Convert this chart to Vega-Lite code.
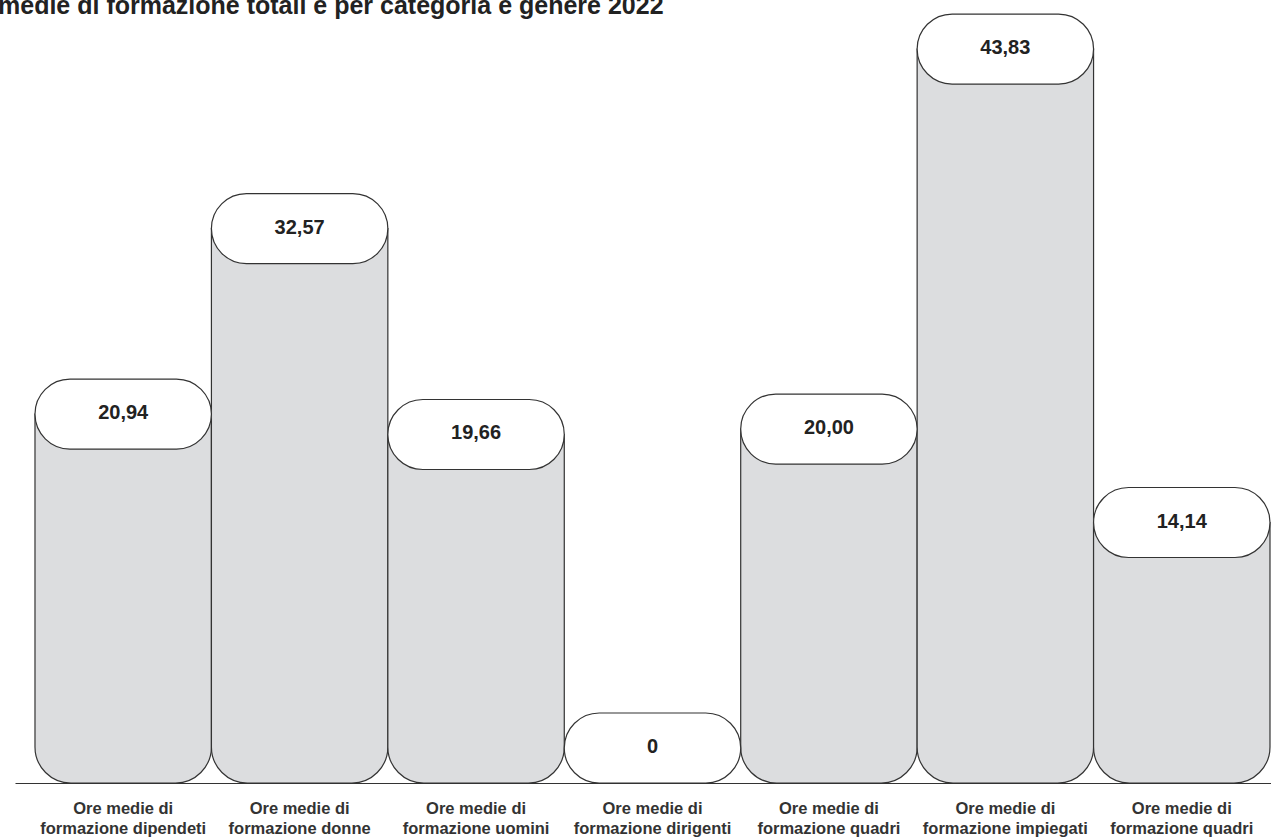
{
  "$schema": "https://vega.github.io/schema/vega-lite/v6.json",
  "autosize": {"type": "none"},
  "width": 1256,
  "height": 783,
  "padding": {"left": 15, "top": 0, "right": 0, "bottom": 54},
  "background": "white",
  "title": {
    "text": "Ore medie di formazione totali e per categoria e genere 2022",
    "anchor": "start",
    "frame": "group",
    "font": "Liberation Sans",
    "fontSize": 25,
    "fontWeight": "bold",
    "color": "#222222",
    "baseline": "alphabetic",
    "offset": 0,
    "dx": -67,
    "dy": 39
  },
  "config": {"view": {"stroke": null}},
  "data": {
    "values": [
      {"cat": "Ore medie di|formazione dipendeti", "value": 20.94, "label": "20,94"},
      {"cat": "Ore medie di|formazione donne", "value": 32.57, "label": "32,57"},
      {"cat": "Ore medie di|formazione uomini", "value": 19.66, "label": "19,66"},
      {"cat": "Ore medie di|formazione dirigenti", "value": 0, "label": "0"},
      {"cat": "Ore medie di|formazione quadri", "value": 20.0, "label": "20,00"},
      {"cat": "Ore medie di|formazione impiegati", "value": 43.83, "label": "43,83"},
      {"cat": "Ore medie di|formazione quadri ", "value": 14.14, "label": "14,14"}
    ]
  },
  "encoding": {
    "x": {
      "field": "cat",
      "type": "nominal",
      "sort": null,
      "scale": {"paddingInner": 0, "paddingOuter": 0.0595, "align": 0.952},
      "axis": {
        "title": null,
        "labelAngle": 0,
        "labelExpr": "split(datum.value, '|')",
        "labelFont": "Liberation Sans",
        "labelFontSize": 16.5,
        "labelFontWeight": "bold",
        "labelColor": "#333333",
        "labelLineHeight": 20,
        "labelPadding": 17,
        "ticks": false,
        "domain": true,
        "domainColor": "#333333",
        "domainWidth": 1.2,
        "grid": false
      }
    }
  },
  "layer": [
    {
      "mark": {
        "type": "bar",
        "fill": "#dcdddf",
        "stroke": "#333333",
        "strokeWidth": 1.2,
        "cornerRadiusBottomLeft": 36,
        "cornerRadiusBottomRight": 36,
        "yOffset": -35
      },
      "encoding": {
        "y": {
          "field": "value",
          "type": "quantitative",
          "stack": null,
          "scale": {"domain": [0, 49.1], "nice": false, "zero": true},
          "axis": null
        },
        "opacity": {"condition": {"test": "datum.value == 0", "value": 0}, "value": 1}
      }
    },
    {
      "mark": {
        "type": "bar",
        "fill": "white",
        "stroke": "#333333",
        "strokeWidth": 1.2,
        "cornerRadius": 35,
        "yOffset": -70,
        "y2Offset": 0
      },
      "encoding": {
        "y": {"field": "value", "type": "quantitative"},
        "y2": {"field": "value"}
      }
    },
    {
      "mark": {
        "type": "text",
        "font": "Liberation Sans",
        "fontSize": 20,
        "fontWeight": "bold",
        "color": "#222222",
        "baseline": "middle",
        "align": "center",
        "yOffset": -36
      },
      "encoding": {
        "y": {"field": "value", "type": "quantitative"},
        "text": {"field": "label"}
      }
    }
  ]
}
